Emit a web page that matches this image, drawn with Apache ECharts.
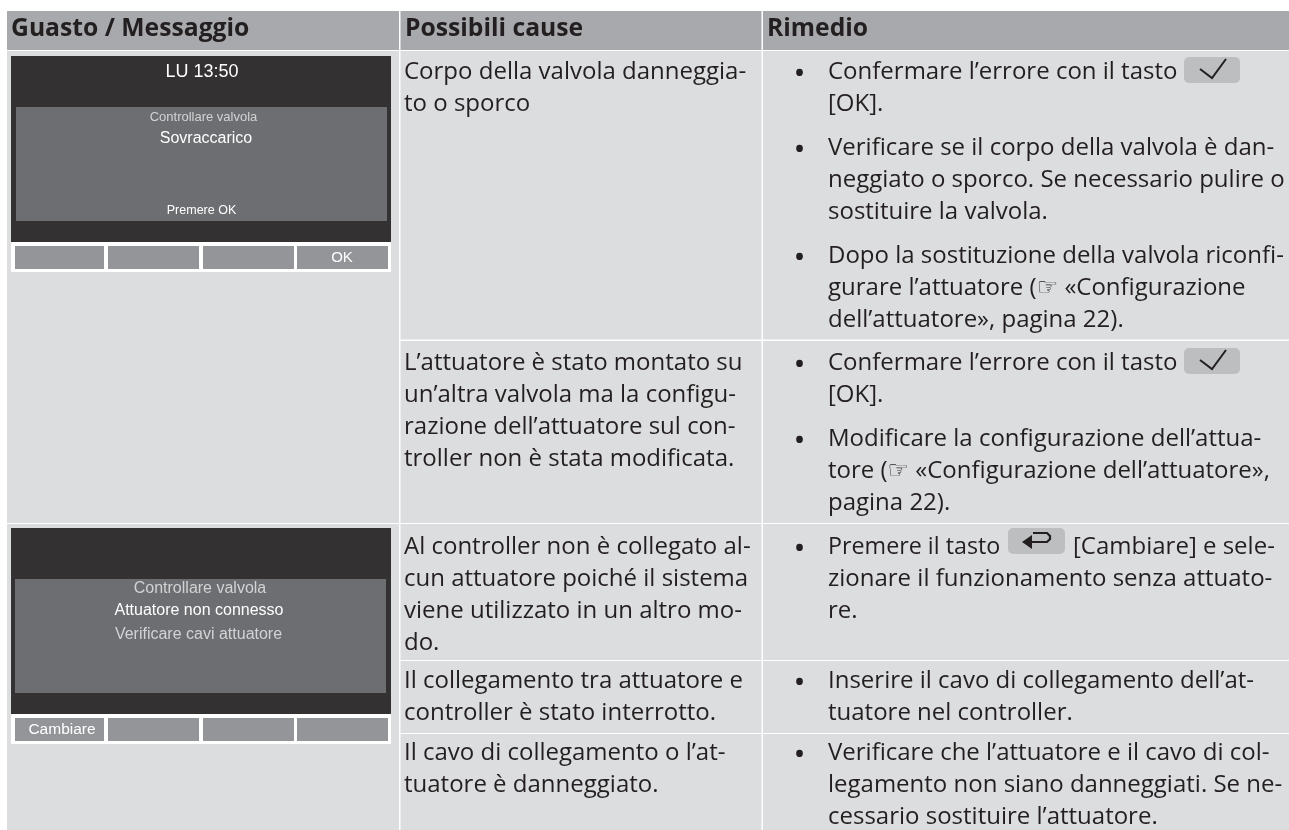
<!DOCTYPE html>
<html><head><meta charset="utf-8">
<style>html,body{margin:0;padding:0;background:#fff}#c{width:1289px;height:830px}</style>
<script src="https://cdn.jsdelivr.net/npm/echarts@6/dist/echarts.min.js"></script>
</head><body><div id="c"></div>
<script>
const headers = ['Guasto / Messaggio', 'Possibili cause', 'Rimedio'];
const causes = [
  ['Corpo della valvola danneggia-', 'to o sporco'],
  ['L’attuatore è stato montato su', 'un’altra valvola ma la configu-', 'razione dell’attuatore sul con-', 'troller non è stata modificata.'],
  ['Al controller non è collegato al-', 'cun attuatore poiché il sistema', 'viene utilizzato in un altro mo-', 'do.'],
  ['Il collegamento tra attuatore e', 'controller è stato interrotto.'],
  ['Il cavo di collegamento o l’at-', 'tuatore è danneggiato.']
];
const remedies = [
  ['Confermare l’errore con il tasto', '[OK].'],
  ['Verificare se il corpo della valvola è dan-', 'neggiato o sporco. Se necessario pulire o', 'sostituire la valvola.'],
  ['Dopo la sostituzione della valvola riconfi-', 'gurare l’attuatore (☞ «Configurazione', 'dell’attuatore», pagina 22).'],
  ['Confermare l’errore con il tasto', '[OK].'],
  ['Modificare la configurazione dell’attua-', 'tore (☞ «Configurazione dell’attuatore»,', 'pagina 22).'],
  ['Premere il tasto', 'zionare il funzionamento senza attuato-', 're.'],
  ['Inserire il cavo di collegamento dell’at-', 'tuatore nel controller.'],
  ['Verificare che l’attuatore e il cavo di col-', 'legamento non siano danneggiati. Se ne-', 'cessario sostituire l’attuatore.']
];
const remedyTail = '[Cambiare] e sele-';
const screenTop = ['LU 13:50', 'Controllare valvola', 'Sovraccarico', 'Premere OK', 'OK'];
const screenBottom = ['Controllare valvola', 'Attuatore non connesso', 'Verificare cavi attuatore', 'Cambiare'];

const causeY = [72, 363, 547, 681, 753];
const remedyY = [72, 148, 256, 363, 439, 547, 681, 753];
const FONT = '"Open Sans","DejaVu Sans",sans-serif', SANS = '"Liberation Sans",Arial,sans-serif';
const INK = '#231f20', PITCH = 32, SIZE = 24, SX = 1;
const g = [];
const rect = (x, y, w, h, fill, r) => g.push({type:'rect', shape:{x, y, width:w, height:h, r:r||0}, style:{fill}, silent:true});
const text = (x, y, s, o={}) => g.push({type:'text', x, y, scaleX:o.sx||SX, silent:true, style:{
  text:s, fill:o.fill||INK, font:`${o.weight||'normal'} ${o.size||SIZE}px ${o.family||FONT}`,
  textAlign:o.align||'left', textVerticalAlign:'middle'}});

// table
const COLS = [[400.5, 361], [763, 526]], ROWS = [[51, 288.5], [341, 182], [524, 136], [661, 72], [734, 96]];
rect(7, 11, 392, 39, '#a7a9ac');
COLS.forEach(([x, w]) => { rect(x, 11, w, 39, '#a7a9ac'); ROWS.forEach(([y, h]) => rect(x, y, w, h, '#dcddde')); });
rect(7, 51, 392, 472, '#dcddde'); rect(7, 524, 392, 306, '#dcddde');
[[11, headers[0]], [405, headers[1]], [767, headers[2]]].forEach(([x, s]) => text(x, 29, s, {weight:'bold', size:24.7}));

// cells
causes.forEach((c, i) => c.forEach((l, j) => text(404, causeY[i] + j * PITCH, l)));
remedies.forEach((c, i) => {
  text(795, remedyY[i] + 2, '•', {size:24, weight:'bold'});
  c.forEach((l, j) => text(828, remedyY[i] + j * PITCH, l, {sx: (i === 5 && j === 0) ? 0.97 : 1}));
});
text(1073, remedyY[5], remedyTail);

// keys
const key = (x, y, w) => rect(x, y, w, 26, '#bcbec0', 5);
[remedyY[0], remedyY[3]].forEach(y => {
  key(1184, y - 15, 56);
  g.push({type:'polyline', shape:{points:[[1200, y - 3], [1212, y + 6], [1226, y - 13]]}, style:{stroke:INK, fill:null, lineWidth:2}, silent:true});
});
const ky = remedyY[5] - 19;
key(1008, ky, 57);
g.push({type:'polyline', shape:{points:[[1030, ky + 14], [1047, ky + 14], [1050, ky + 11], [1050, ky + 8], [1047, ky + 5], [1033, ky + 5]]}, style:{stroke:INK, fill:null, lineWidth:2.2}, silent:true});
g.push({type:'polygon', shape:{points:[[1022, ky + 14], [1032, ky + 7], [1032, ky + 21]]}, style:{fill:INK}, silent:true});

// screens
const screen = (top, gx, gy) => {
  rect(11, top, 380, 186, '#333132');
  rect(gx, gy, 371, 114, '#6d6e71');
  rect(11, top + 186, 380, 30, '#fff');
  [[15, 89], [108, 91], [203, 91], [297, 91]].forEach(([x, w]) => rect(x, top + 190, w, 23, '#939598'));
};
screen(56, 16, 107);
text(202, 72.5, screenTop[0], {family:SANS, size:18, fill:'#fff', align:'center'});
text(203.5, 117.5, screenTop[1], {family:SANS, size:13, fill:'#d1d3d4', align:'center'});
text(206, 139, screenTop[2], {family:SANS, size:16, fill:'#fff', align:'center'});
text(201.5, 211, screenTop[3], {family:SANS, size:12.5, fill:'#fff', align:'center'});
text(342, 258, screenTop[4], {family:SANS, size:15, fill:'#fff', align:'center'});
screen(528, 15, 579);
text(200, 589, screenBottom[0], {family:SANS, size:16, fill:'#d1d3d4', align:'center'});
text(199, 610.5, screenBottom[1], {family:SANS, size:16, fill:'#fff', align:'center'});
text(198.5, 635, screenBottom[2], {family:SANS, size:16, fill:'#d1d3d4', align:'center'});
text(62, 730, screenBottom[3], {family:SANS, size:15.5, fill:'#fff', align:'center'});

const chart = echarts.init(document.getElementById('c'), null, {renderer:'canvas'});
chart.setOption({animation:false, graphic:{elements:g}});
</script></body></html>
